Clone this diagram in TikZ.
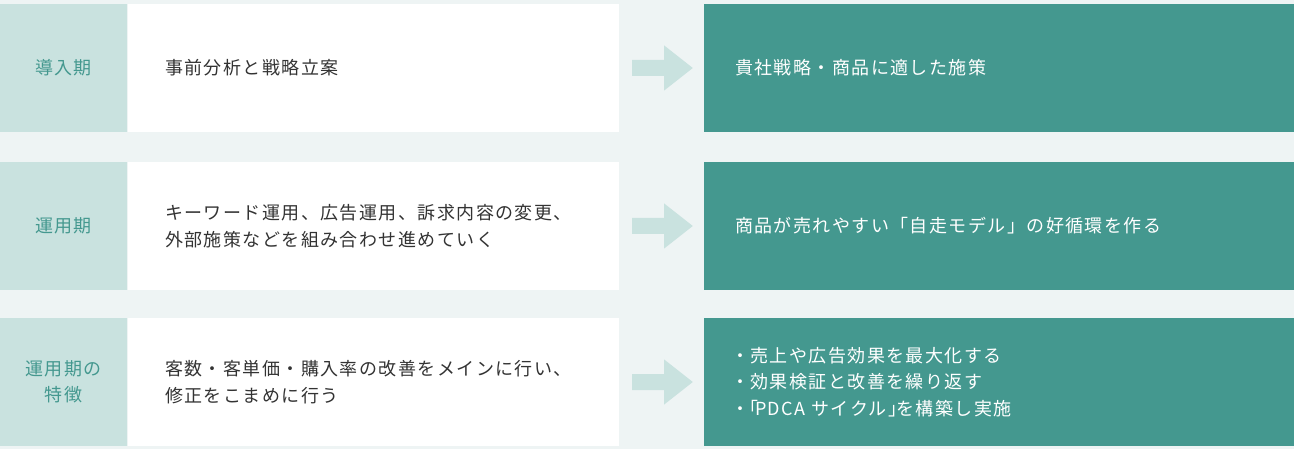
\documentclass[tikz,border=0pt]{standalone}
\usepackage{fontspec}
\setmainfont[LetterSpace=8]{Noto Sans CJK JP}
\usetikzlibrary{calc}
\definecolor{bgc}{HTML}{EEF4F4}
\definecolor{labc}{HTML}{C9E2DF}
\definecolor{tealc}{HTML}{44988F}
\definecolor{txtc}{HTML}{333333}
\tikzset{
  labbox/.style={fill=labc, text=tealc, minimum width=127pt, minimum height=128pt, inner sep=0pt, align=center, font=\fontsize{18}{26.5}\selectfont},
  midbox/.style={fill=white, text=txtc, minimum width=491pt, minimum height=128pt, inner xsep=37pt, inner ysep=0pt, text width=417pt, align=left, font=\fontsize{18}{26.5}\selectfont},
  resbox/.style={fill=tealc, text=white, minimum width=590pt, minimum height=128pt, inner xsep=31pt, inner ysep=0pt, text width=528pt, align=left, font=\fontsize{18}{26.5}\selectfont},
  flowarrow/.style={fill=labc}
}
\newcommand{\flowarr}[2]{%
  \fill[flowarrow] ($(#1.east)+(13,-8)$) -- ($(#1.east)+(45,-8)$) -- ($(#1.east)+(45,-22.5)$) -- ($(#2.west)+(-11,0)$) -- ($(#1.east)+(45,22.5)$) -- ($(#1.east)+(45,8)$) -- ($(#1.east)+(13,8)$) -- cycle;}
\begin{document}
\begin{tikzpicture}[x=1pt,y=-1pt]
\fill[bgc] (0,0) rectangle (1294,449);
\useasboundingbox (0,0) rectangle (1294,449);
% row 1
\node[labbox] (l1) at (63.5,68) {導入期};
\node[midbox] (m1) at (373.5,68) {事前分析と戦略立案};
\node[resbox] (r1) at (999,68) {貴社戦略・商品に適した施策};
% row 2
\node[labbox] (l2) at (63.5,226) {運用期};
\node[midbox] (m2) at (373.5,226) {キーワード運用、広告運用、訴求内容の変更、\\外部施策などを組み合わせ進めていく};
\node[resbox] (r2) at (999,226) {商品が売れやすい「自走モデル」の好循環を作る};
% row 3
\node[labbox] (l3) at (63.5,382) {運用期の\\特徴};
\node[midbox] (m3) at (373.5,382) {客数・客単価・購入率の改善をメインに行い、\\修正をこまめに行う};
\node[resbox] (r3) at (999,382) {\hspace*{-4pt}・売上や広告効果を最大化する\\\hspace*{-4pt}・効果検証と改善を繰り返す\\\hspace*{-4pt}・\hspace{-9pt}「\hspace{-3pt}PDCA サイクル」\hspace{-10pt}を構築し実施};
\flowarr{m1}{r1}
\flowarr{m2}{r2}
\flowarr{m3}{r3}
\end{tikzpicture}
\end{document}
